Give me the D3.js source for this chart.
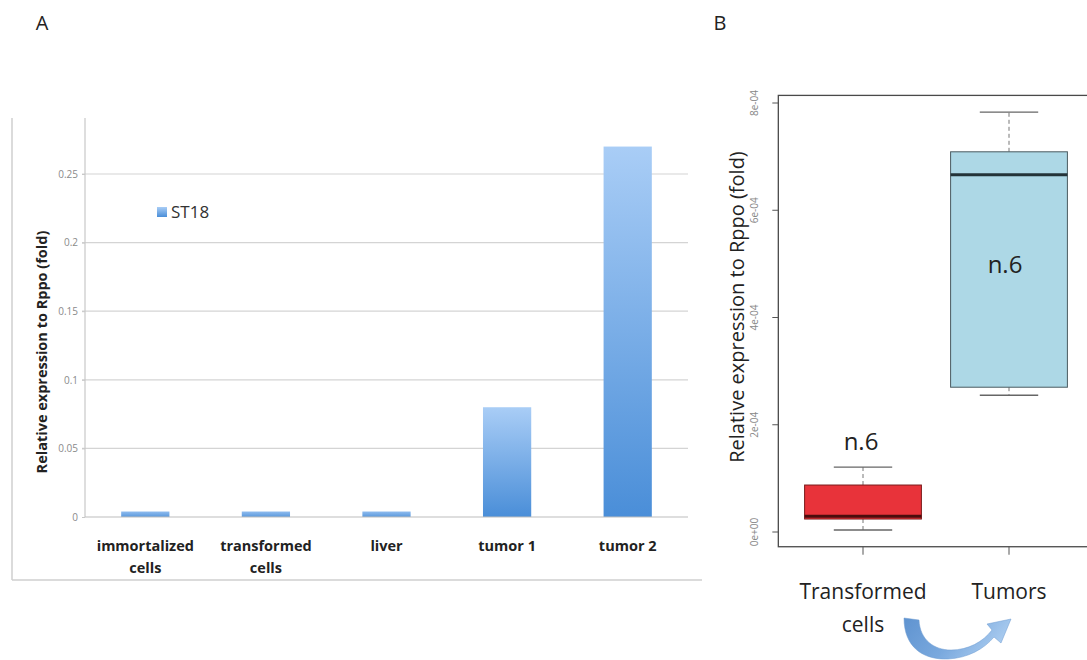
<!DOCTYPE html>
<html>
<head>
<meta charset="utf-8">
<script src="https://cdn.jsdelivr.net/npm/d3@7"></script>
<style>
  html, body { margin: 0; padding: 0; background: #fff; }
  svg { display: block; }
  text { font-family: "Open Sans", "DejaVu Sans", sans-serif; }
</style>
</head>
<body>
<svg id="chart" width="1087" height="660"></svg>
<script>
// ---------- Panel A data ----------
const categoriesA = ["immortalized cells", "transformed cells", "liver", "tumor 1", "tumor 2"];
const valuesA = [0.004, 0.004, 0.004, 0.08, 0.27];
const ticksA = [0, 0.05, 0.1, 0.15, 0.2, 0.25];
const tickLabelsA = ["0", "0.05", "0.1", "0.15", "0.2", "0.25"];
const seriesNameA = "ST18";

// ---------- Panel B data ----------
const groupsB = ["Transformed cells", "Tumors"];
const whiskerLowB = [0.037e-4, 2.55e-4];
const q1B = [0.242e-4, 2.70e-4];
const medianB = [0.295e-4, 6.66e-4];
const q3B = [0.876e-4, 7.09e-4];
const whiskerHighB = [1.21e-4, 7.83e-4];
const countLabelsB = ["n.6", "n.6"];
const ticksB = [0, 2e-4, 4e-4, 6e-4, 8e-4];
const tickLabelsB = ["0e+00", "2e-04", "4e-04", "6e-04", "8e-04"];

const svg = d3.select("#chart");
const defs = svg.append("defs");

// gradients
const gBar = defs.append("linearGradient").attr("id", "barGrad")
  .attr("x1", 0).attr("y1", 0).attr("x2", 0).attr("y2", 1);
gBar.append("stop").attr("offset", "0%").attr("stop-color", "#a9cdf6");
gBar.append("stop").attr("offset", "100%").attr("stop-color", "#4a8ed8");

const gSmall = defs.append("linearGradient").attr("id", "smallGrad")
  .attr("x1", 0).attr("y1", 0).attr("x2", 0).attr("y2", 1);
gSmall.append("stop").attr("offset", "0%").attr("stop-color", "#8fbcef");
gSmall.append("stop").attr("offset", "100%").attr("stop-color", "#5a98dc");

const gArrow = defs.append("linearGradient").attr("id", "arrowGrad")
  .attr("x1", 0).attr("y1", 0).attr("x2", 1).attr("y2", 0.3);
gArrow.append("stop").attr("offset", "0%").attr("stop-color", "#5f93d0");
gArrow.append("stop").attr("offset", "55%").attr("stop-color", "#7aa9de");
gArrow.append("stop").attr("offset", "100%").attr("stop-color", "#a9cbef");

// ---------- Panel labels ----------
svg.append("text").attr("x", 42).attr("y", 30).attr("text-anchor", "middle")
  .attr("font-size", 20).attr("fill", "#222").text("A");
svg.append("text").attr("x", 720).attr("y", 30).attr("text-anchor", "middle")
  .attr("font-size", 20).attr("fill", "#222").text("B");

// ---------- Panel A ----------
const A = svg.append("g");
const xA = d3.scaleBand().domain(categoriesA).range([85, 688]).paddingInner(0.6).paddingOuter(0.3);
const yA = d3.scaleLinear().domain([0, 0.25]).range([517, 174]);
const yTopA = 118;

// outer frame (left + bottom)
A.append("line").attr("x1", 12).attr("x2", 12).attr("y1", yTopA).attr("y2", 580)
  .attr("stroke", "#cfcfcf").attr("stroke-width", 1.5);
A.append("line").attr("x1", 12).attr("x2", 702).attr("y1", 580).attr("y2", 580)
  .attr("stroke", "#cfcfcf").attr("stroke-width", 1.5);

// gridlines
A.append("g").selectAll("line").data(ticksA.slice(1)).join("line")
  .attr("x1", 82).attr("x2", 688)
  .attr("y1", d => yA(d)).attr("y2", d => yA(d))
  .attr("stroke", "#d4d4d4").attr("stroke-width", 1.2);

// y axis
const axA = d3.axisLeft(yA).tickValues(ticksA).tickSize(3)
  .tickFormat((d, i) => tickLabelsA[i]);
const gyA = A.append("g").attr("transform", "translate(85,0)").call(axA);
gyA.select(".domain").remove();
gyA.selectAll(".tick line").attr("stroke", "#c8c8c8");
gyA.selectAll(".tick text").attr("fill", "#8a8a8a").attr("font-size", 10)
  .attr("font-family", "'Open Sans', sans-serif").attr("x", -7);
A.append("line").attr("x1", 85).attr("x2", 85).attr("y1", yTopA).attr("y2", yA(0))
  .attr("stroke", "#c8c8c8").attr("stroke-width", 1.2);

// bars
A.append("g").selectAll("rect").data(valuesA).join("rect")
  .attr("x", (d, i) => xA(categoriesA[i]))
  .attr("width", xA.bandwidth())
  .attr("y", d => yA(d))
  .attr("height", d => yA(0) - yA(d))
  .attr("fill", d => d < 0.02 ? "url(#smallGrad)" : "url(#barGrad)");

// x axis line
A.append("line").attr("x1", 85).attr("x2", 688).attr("y1", yA(0)).attr("y2", yA(0))
  .attr("stroke", "#bdbdbd").attr("stroke-width", 1.2);

// x labels
const xlabA = A.append("g").selectAll("text").data(categoriesA).join("text")
  .attr("text-anchor", "middle").attr("font-size", 14.5).attr("font-weight", "bold")
  .attr("fill", "#222")
  .attr("transform", d => `translate(${xA(d) + xA.bandwidth() / 2},551)`);
xlabA.each(function(d) {
  const words = d.split(" ");
  const lines = (d.startsWith("tumor") || d === "liver") ? [d] : [words[0], words.slice(1).join(" ")];
  d3.select(this).selectAll("tspan").data(lines).join("tspan")
    .attr("x", 0).attr("dy", (l, j) => j === 0 ? 0 : 22).text(l => l);
});

// y title
A.append("text").attr("transform", `translate(47,352) rotate(-90)`)
  .attr("text-anchor", "middle").attr("font-size", 14.5).attr("font-weight", "bold")
  .attr("fill", "#222").text("Relative expression to Rppo (fold)");

// legend
A.append("rect").attr("x", 157).attr("y", 207).attr("width", 10).attr("height", 10)
  .attr("fill", "url(#barGrad)");
A.append("text").attr("x", 171).attr("y", 218).attr("font-size", 17).attr("fill", "#333")
  .text(seriesNameA);

// ---------- Panel B ----------
const B = svg.append("g");
const xB = d3.scaleLinear().domain([1, 2]).range([863, 1009]);
const yB = d3.scaleLinear().domain([0, 8e-4]).range([532, 103]);
const dMin = d3.min(whiskerLowB), dMax = d3.max(whiskerHighB);
const ext = (dMax - dMin) * 0.04;
const fTop = yB(dMax + ext), fBot = yB(dMin - ext);
const fLeft = xB(0.42), fRight = xB(2.58);

B.append("rect").attr("x", fLeft).attr("y", fTop)
  .attr("width", fRight - fLeft).attr("height", fBot - fTop)
  .attr("fill", "none").attr("stroke", "#4a4a4a").attr("stroke-width", 1.3);

// y ticks
const gyB = B.append("g");
gyB.selectAll("line").data(ticksB).join("line")
  .attr("x1", fLeft - 6).attr("x2", fLeft)
  .attr("y1", d => yB(d)).attr("y2", d => yB(d))
  .attr("stroke", "#555").attr("stroke-width", 1);
gyB.selectAll("text").data(ticksB).join("text")
  .attr("transform", d => `translate(758,${yB(d)}) rotate(-90)`)
  .attr("text-anchor", "middle").attr("font-size", 10).attr("fill", "#888")
  .text((d, i) => tickLabelsB[i]);

// x ticks
B.append("g").selectAll("line").data(groupsB).join("line")
  .attr("x1", (d, i) => xB(i + 1)).attr("x2", (d, i) => xB(i + 1))
  .attr("y1", fBot).attr("y2", fBot + 8)
  .attr("stroke", "#555").attr("stroke-width", 1);

// x labels
const xlabB = B.append("g").selectAll("text").data(groupsB).join("text")
  .attr("text-anchor", "middle").attr("font-size", 21).attr("fill", "#222")
  .attr("transform", (d, i) => `translate(${xB(i + 1)},599)`);
xlabB.each(function(d) {
  const lines = d === "Tumors" ? [d] : ["Transformed", "cells"];
  d3.select(this).selectAll("tspan").data(lines).join("tspan")
    .attr("x", 0).attr("dy", (l, j) => j === 0 ? 0 : 33).text(l => l);
});

// y title
B.append("text").attr("transform", `translate(744,307) rotate(-90)`)
  .attr("text-anchor", "middle").attr("font-size", 20).attr("fill", "#222")
  .text("Relative expression to Rppo (fold)");

// boxes
const boxW = 0.8 * (xB(2) - xB(1));
const capW = boxW * 0.5;
const fills = ["#e8333a", "#add8e6"];
const borders = ["#7a1a1a", "#4a5a60"];
const medCols = ["#4a0d0d", "#233338"];

groupsB.forEach((g, i) => {
  const cx = xB(i + 1);
  const gg = B.append("g");
  gg.append("line").attr("x1", cx).attr("x2", cx)
    .attr("y1", yB(q3B[i])).attr("y2", yB(whiskerHighB[i]))
    .attr("stroke", "#777").attr("stroke-dasharray", "4,3").attr("stroke-width", 1);
  gg.append("line").attr("x1", cx).attr("x2", cx)
    .attr("y1", yB(q1B[i])).attr("y2", yB(whiskerLowB[i]))
    .attr("stroke", "#777").attr("stroke-dasharray", "4,3").attr("stroke-width", 1);
  [whiskerHighB[i], whiskerLowB[i]].forEach(v => {
    gg.append("line").attr("x1", cx - capW / 2).attr("x2", cx + capW / 2)
      .attr("y1", yB(v)).attr("y2", yB(v))
      .attr("stroke", "#666").attr("stroke-width", 1.4);
  });
  gg.append("rect").attr("x", cx - boxW / 2).attr("width", boxW)
    .attr("y", yB(q3B[i])).attr("height", yB(q1B[i]) - yB(q3B[i]))
    .attr("fill", fills[i]).attr("stroke", borders[i]).attr("stroke-width", 1);
  gg.append("line").attr("x1", cx - boxW / 2).attr("x2", cx + boxW / 2)
    .attr("y1", yB(medianB[i])).attr("y2", yB(medianB[i]))
    .attr("stroke", medCols[i]).attr("stroke-width", 3);
});

// n labels
B.append("text").attr("x", xB(1) - 2).attr("y", 450).attr("text-anchor", "middle")
  .attr("font-size", 24).attr("fill", "#222").text(countLabelsB[0]);
B.append("text").attr("x", xB(2) - 4).attr("y", 273).attr("text-anchor", "middle")
  .attr("font-size", 24).attr("fill", "#222").text(countLabelsB[1]);

// curved arrow
B.append("path")
  .attr("d", "M904,618 C904,648 924,660 948,659 C968,658 984,649 994,637 L1001,643 L1011,619 L987,624 L992,630 C983,642 968,650 951,650 C934,650 920,640 919,620 Z")
  .attr("fill", "url(#arrowGrad)").attr("stroke", "#6d9bd0").attr("stroke-width", 0.5);
</script>
</body>
</html>
